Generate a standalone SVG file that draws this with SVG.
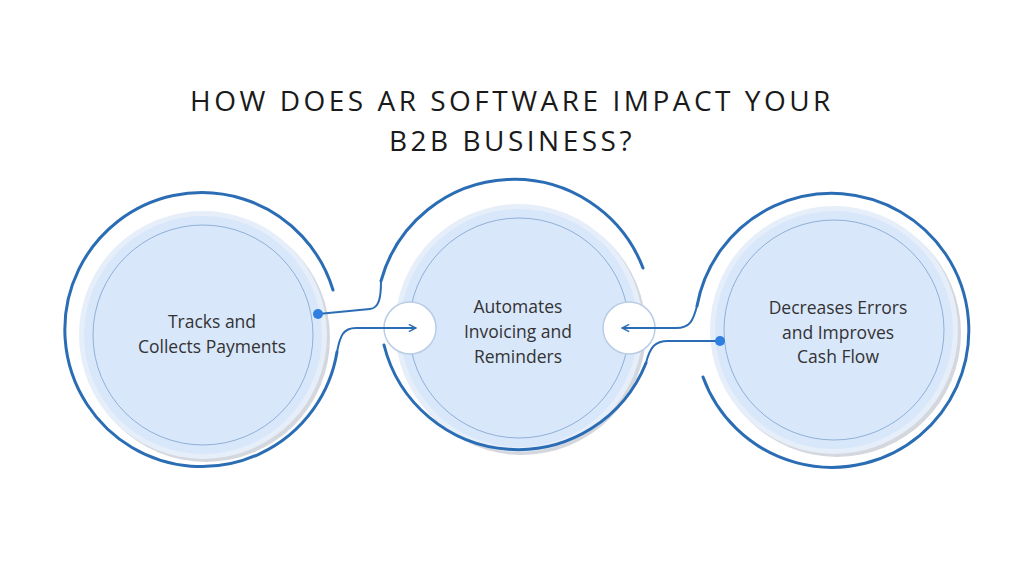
<svg xmlns="http://www.w3.org/2000/svg" width="1024" height="576" viewBox="0 0 1024 576">
<style>
.title{font-family:"Open Sans","Liberation Sans",sans-serif;font-size:28px;letter-spacing:3.5px;fill:#1a1a1a;text-anchor:middle}
.lbl{font-family:"Open Sans","Liberation Sans",sans-serif;font-size:17.5px;fill:#333;text-anchor:middle}
.shadow{fill:#d4d8de}
.halo{fill:#e6eef9}
.disk{fill:#d9e7fb}
.ring{fill:none;stroke:#8fb0d6;stroke-width:1}
.arc{fill:none;stroke:#2b6db4;stroke-width:3;stroke-linecap:round}
.con{fill:none;stroke:#2b6db4;stroke-width:2}
.notch{fill:#fff;stroke:#b9cde6;stroke-width:1.5}
</style>
<defs>
<marker id="ah" viewBox="0 0 10 10" refX="9" refY="5" markerWidth="9" markerHeight="9" orient="auto" markerUnits="userSpaceOnUse">
<path d="M1,1 L9,5 L1,9" fill="none" stroke="#2b6db4" stroke-width="1.6"/>
</marker>
</defs>
<rect width="1024" height="576" fill="#fff"/>
<text class="title" x="512" y="111">HOW DOES AR SOFTWARE IMPACT YOUR</text>
<text class="title" x="512" y="151">B2B BUSINESS?</text>
<g id="node1">
<circle class="shadow" cx="206" cy="338" r="124"/>
<circle class="halo" cx="203" cy="335" r="124"/>
<circle class="disk" cx="203" cy="335" r="119"/>
<circle class="ring" cx="203" cy="335" r="110"/>
<path class="arc" d="M333,290 A137 137 0 1 0 337,352"/>
<text class="lbl" x="212" y="328">Tracks and</text>
<text class="lbl" x="212" y="353">Collects Payments</text>
</g>
<g id="node2">
<circle class="shadow" cx="522" cy="331" r="124"/>
<circle class="halo" cx="519" cy="328" r="124"/>
<circle class="disk" cx="519" cy="328" r="119"/>
<circle class="ring" cx="519" cy="328" r="110"/>
<circle class="notch" cx="410" cy="328" r="26"/>
<circle class="notch" cx="629" cy="328" r="26"/>
<path class="arc" d="M381,281 A138 138 0 0 1 643,268"/>
<path class="arc" d="M384,345 A138 138 0 0 0 646,363"/>
<text class="lbl" x="518" y="313">Automates</text>
<text class="lbl" x="518" y="338">Invoicing and</text>
<text class="lbl" x="518" y="363">Reminders</text>
</g>
<g id="node3">
<circle class="shadow" cx="837" cy="333" r="124"/>
<circle class="halo" cx="834" cy="330" r="124"/>
<circle class="disk" cx="834" cy="330" r="119"/>
<circle class="ring" cx="834" cy="330" r="110"/>
<path class="arc" d="M697,306 A137 137 0 1 1 703,377"/>
<text class="lbl" x="838" y="314">Decreases Errors</text>
<text class="lbl" x="838" y="339">and Improves</text>
<text class="lbl" x="838" y="363">Cash Flow</text>
</g>
<g id="connectors">
<path class="con" d="M318,314 L370,309 C379,308 381,298 381,281"/>
<circle cx="318" cy="314" r="5" fill="#2f7fe0"/>
<path class="con" d="M337,352 C340,336 343,328 356,328 L416,328" marker-end="url(#ah)"/>
<path class="con" d="M697,306 C693,321 690,328 676,328 L622,328" marker-end="url(#ah)"/>
<path class="con" d="M646,363 C650,347 655,341 668,341 L720,341"/>
<circle cx="720" cy="341" r="5" fill="#2f7fe0"/>
</g>
</svg>
